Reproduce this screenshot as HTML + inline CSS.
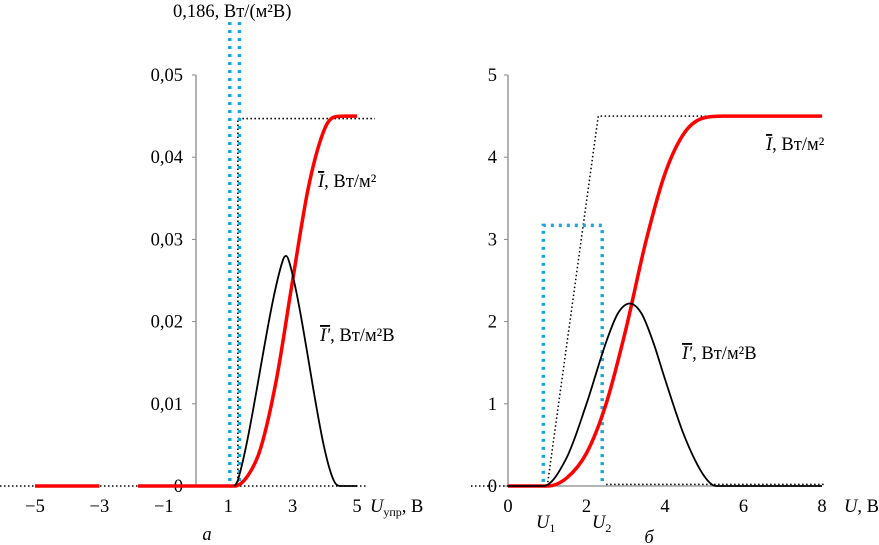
<!DOCTYPE html>
<html><head><meta charset="utf-8"><style>
body{margin:0;background:#fff}
svg{display:block;font-family:"Liberation Serif",serif}
</style></head><body>
<svg id="c" width="879" height="545" viewBox="0 0 879 545">
<g id="left"></g>
<g id="right"></g>
</svg>
<script>
// Panel a data
const aXTicks=[-5,-3,-1,1,3,5];
const aYTicks=[0,0.01,0.02,0.03,0.04,0.05];
const aYLabels=["0","0,01","0,02","0,03","0,04","0,05"];
const aRedSeg1X=[-5,-3]; const aRedSeg1Y=[0,0];
const aRedX=[-1.8,1.2,1.6,2,2.5,3,3.5,4,4.3,4.6,5];
const aRedY=[0,0,0.0012,0.0045,0.013,0.025,0.0365,0.0435,0.0449,0.045,0.045];
const aBlkX=[1.2,1.3,2.7,2.8,2.9,4.3,4.5,5];
const aBlkY=[0,0.0007,0.0275,0.028,0.0272,0.0005,0,0];
const aBlueX=[1.05,1.35];
const aLimit=0.0447;
// Panel b data
const bXTicks=[0,2,4,6,8];
const bYTicks=[0,1,2,3,4,5];
const bRedX=[0,1,1.5,2,2.5,3,3.5,4,4.5,5,5.5,8];
const bRedY=[0,0,0.1,0.4,1.0,1.9,2.95,3.8,4.3,4.48,4.5,4.5];
const bBlkX=[0,0.9,1.5,2,2.5,2.8,3.1,3.4,3.7,4,4.5,5,5.3,8];
const bBlkY=[0,0,0.35,1.0,1.75,2.1,2.22,2.1,1.75,1.3,0.6,0.12,0,0];
const bRectX=[0.9,2.4]; const bRectY=[0.05,3.17];
const bRampX=[1.0,2.3]; const bRampY=[0,4.5];

const NS="http://www.w3.org/2000/svg";
function mk(p,t,a,txt){const e=document.createElementNS(NS,t);for(const k in a)e.setAttribute(k,a[k]);if(txt!==undefined)e.textContent=txt;p.appendChild(e);return e;}
function smooth(xs,ys,sx,sy){const X=xs.map(sx),Y=ys.map(sy),n=X.length;
if(n<3)return "M"+X[0]+","+Y[0]+" L"+X[1]+","+Y[1];
const d=[],m=[];for(let i=0;i<n-1;i++)d.push((Y[i+1]-Y[i])/(X[i+1]-X[i]));
m[0]=d[0];m[n-1]=d[n-2];for(let i=1;i<n-1;i++)m[i]=(d[i-1]*d[i]<=0)?0:(d[i-1]+d[i])/2;
for(let i=0;i<n-1;i++){if(d[i]===0){m[i]=0;m[i+1]=0;continue;}const a=m[i]/d[i],b=m[i+1]/d[i],s=a*a+b*b;if(s>9){const t=3/Math.sqrt(s);m[i]=t*a*d[i];m[i+1]=t*b*d[i];}}
let p="M"+X[0]+","+Y[0];for(let i=0;i<n-1;i++){const h=(X[i+1]-X[i])/3;
p+=" C"+(X[i]+h)+","+(Y[i]+m[i]*h)+" "+(X[i+1]-h)+","+(Y[i+1]-m[i+1]*h)+" "+X[i+1]+","+Y[i+1];}return p;}
function lin(xs,ys,sx,sy){return xs.map((x,i)=>(i?"L":"M")+sx(x)+","+sy(ys[i])).join(" ");}

const FS=18.5;
// Panel a
const L=document.getElementById('left');
const ax=v=>196+v*32.2, ay=v=>486-v*8220;
let e;
e=mk(L,'line',{x1:196,y1:ay(0),x2:196,y2:ay(0.05),stroke:'#888','stroke-width':1.3});

aYTicks.forEach((v,i)=>{mk(L,'line',{x1:192,x2:196,y1:ay(v),y2:ay(v),stroke:'#888'});
e=mk(L,'text',{x:183,y:ay(v)+6,'font-size':FS,'text-anchor':'end'},aYLabels[i]);
});
aXTicks.forEach(v=>{e=mk(L,'text',{x:ax(v),y:512,'font-size':FS,'text-anchor':'middle'},v<0?"−"+(-v):""+v);
});
e=mk(L,'text',{x:370,y:512,'font-size':FS});e.innerHTML='<tspan font-style="italic">U</tspan><tspan font-size="12" dy="4">упр</tspan><tspan dy="-4">, В</tspan>';

e=mk(L,'text',{x:207,y:540,'font-size':FS,'font-style':'italic','text-anchor':'middle'},'а');

e=mk(L,'text',{x:173,y:17,'font-size':FS},'0,186, Вт/(м²В)');

e=mk(L,'path',{d:`M0,${ay(0)} H368 M${ax(1.3)},${ay(0)} V${ay(aLimit)} H375`,stroke:'#000','stroke-width':1.6,'stroke-dasharray':'1.5 2.5',fill:'none'});

aBlueX.forEach(x=>{e=mk(L,'line',{x1:ax(x),x2:ax(x),y1:22,y2:ay(0.0005),stroke:'#1aa7e0','stroke-width':3.5,'stroke-dasharray':'3 5'});
});
e=mk(L,'path',{d:lin(aRedSeg1X,aRedSeg1Y,ax,ay),stroke:'#f00','stroke-width':3.5,fill:'none'});

e=mk(L,'path',{d:smooth(aRedX,aRedY,ax,ay),stroke:'#f00','stroke-width':3.5,fill:'none'});

e=mk(L,'path',{d:smooth(aBlkX,aBlkY,ax,ay),stroke:'#000','stroke-width':1.8,fill:'none'});

e=mk(L,'text',{x:318,y:187,'font-size':FS});e.innerHTML='<tspan font-style="italic" text-decoration="overline">I</tspan>, Вт/м²';

e=mk(L,'text',{x:320,y:341,'font-size':FS});e.innerHTML='<tspan font-style="italic" text-decoration="overline">I\'</tspan>, Вт/м²В';


// Panel b
const R=document.getElementById('right');
const bx=v=>508+v*39.25, by=v=>486-v*82.2;
e=mk(R,'line',{x1:508,y1:by(0),x2:508,y2:by(5),stroke:'#888','stroke-width':1.3});

e=mk(R,'line',{x1:508,y1:by(0),x2:bx(8),y2:by(0),stroke:'#888','stroke-width':1.3});

bYTicks.forEach(v=>{mk(R,'line',{x1:504,x2:508,y1:by(v),y2:by(v),stroke:'#888'});
e=mk(R,'text',{x:497,y:by(v)+6,'font-size':FS,'text-anchor':'end'},""+v);
});
bXTicks.forEach(v=>{e=mk(R,'text',{x:bx(v),y:512,'font-size':FS,'text-anchor':'middle'},""+v);
});
e=mk(R,'text',{x:844,y:512,'font-size':FS});e.innerHTML='<tspan font-style="italic">U</tspan>, В';

e=mk(R,'text',{x:536,y:528,'font-size':FS});e.innerHTML='<tspan font-style="italic">U</tspan><tspan font-size="12" dy="4">1</tspan>';

e=mk(R,'text',{x:592,y:528,'font-size':FS});e.innerHTML='<tspan font-style="italic">U</tspan><tspan font-size="12" dy="4">2</tspan>';

e=mk(R,'text',{x:649,y:543,'font-size':FS,'font-style':'italic','text-anchor':'middle'},'б');

e=mk(R,'path',{d:`M471,${by(0)} H${bx(bRampX[0])} L${bx(bRampX[1])},${by(bRampY[1])} H${bx(8.05)} M${bx(2.5)},${by(0.02)} H${bx(8.1)}`,stroke:'#000','stroke-width':1.5,'stroke-dasharray':'1.5 2.5',fill:'none'});

e=mk(R,'path',{d:`M${bx(bRectX[0])},${by(bRectY[0])} V${by(bRectY[1])} H${bx(bRectX[1])} V${by(bRectY[0])}`,stroke:'#1aa7e0','stroke-width':3.5,'stroke-dasharray':'3 5',fill:'none'});

e=mk(R,'path',{d:smooth(bRedX,bRedY,bx,by),stroke:'#f00','stroke-width':3.5,fill:'none'});

e=mk(R,'path',{d:smooth(bBlkX,bBlkY,bx,by),stroke:'#000','stroke-width':1.8,fill:'none'});

e=mk(R,'text',{x:766,y:150,'font-size':FS});e.innerHTML='<tspan font-style="italic" text-decoration="overline">I</tspan>, Вт/м²';

e=mk(R,'text',{x:682,y:359,'font-size':FS});e.innerHTML='<tspan font-style="italic" text-decoration="overline">I\'</tspan>, Вт/м²В';

</script>
</body></html>
